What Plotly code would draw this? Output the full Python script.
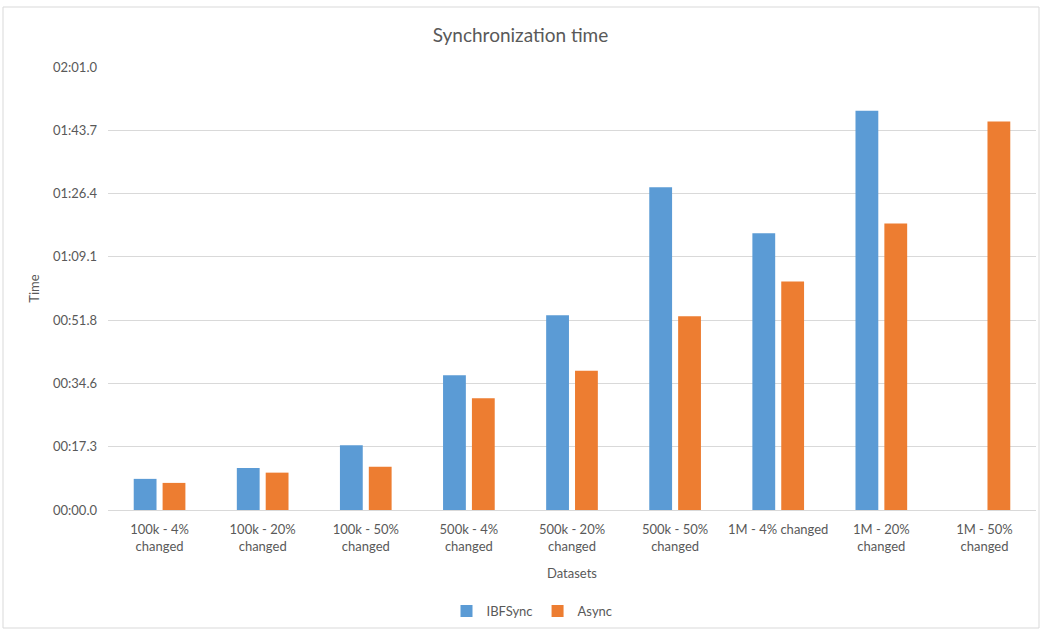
import plotly.graph_objects as go

# Dataset categories and synchronization times (seconds)
categories = [
    "100k - 4%<br>changed", "100k - 20%<br>changed", "100k - 50%<br>changed",
    "500k - 4%<br>changed", "500k - 20%<br>changed", "500k - 50%<br>changed",
    "1M - 4% changed", "1M - 20%<br>changed", "1M - 50%<br>changed",
]
ibfsync = [8.5, 11.5, 17.7, 36.8, 53.2, 88.1, 75.6, 109.0, None]
async_ = [7.4, 10.2, 11.8, 30.5, 38.0, 52.9, 62.4, 78.2, 106.1]

# Y ticks every 0.0002 day (17.28 s), shown as mm:ss.s
tick_seconds = [0, 17.28, 34.56, 51.84, 69.12, 86.4, 103.68, 120.96]
tick_labels = ["00:00.0", "00:17.3", "00:34.6", "00:51.8", "01:09.1",
               "01:26.4", "01:43.7", "02:01.0"]

TEXT = "#595959"
FONT = "Lato, Carlito, Calibri, sans-serif"

fig = go.Figure()
fig.add_trace(go.Bar(name="IBFSync", x=categories, y=ibfsync,
                     marker=dict(color="#5B9BD5", line=dict(width=0))))
fig.add_trace(go.Bar(name="Async", x=categories, y=async_,
                     marker=dict(color="#ED7D31", line=dict(width=0))))

L, R, T, B = 108, 5, 67, 121
W, H = 1041, 631
pw, ph = W - L - R, H - T - B


def px(x):
    return (x - L) / pw


def py(y):
    return (H - B - y) / ph


fig.update_layout(
    width=W, height=H,
    margin=dict(l=L, r=R, t=T, b=B),
    paper_bgcolor="white", plot_bgcolor="white",
    font=dict(family=FONT, color=TEXT, size=12),
    barmode="group", bargap=0.44, bargroupgap=0.21,
    title=dict(text="Synchronization time", x=0.5, xanchor="center",
               y=1 - 35 / H, yanchor="middle",
               font=dict(size=19, color=TEXT, family=FONT)),
    xaxis=dict(
        title=dict(text="Datasets", font=dict(size=13, color=TEXT), standoff=15),
        showgrid=False, showline=False, ticks="", ticklabelstandoff=10,
        tickfont=dict(size=13, color=TEXT),
    ),
    yaxis=dict(
        title=dict(text="Time", font=dict(size=13, color=TEXT), standoff=10),
        range=[0, 120.96], tickvals=tick_seconds, ticktext=tick_labels,
        showgrid=True, gridcolor="#D9D9D9", gridwidth=1,
        zeroline=True, zerolinecolor="#D9D9D9", zerolinewidth=1,
        showline=False, ticks="", ticklabelstandoff=10,
        tickfont=dict(size=13, color=TEXT),
    ),
    legend=dict(orientation="h", x=px(532), xanchor="center",
                y=py(611), yanchor="middle",
                font=dict(size=13, color=TEXT), itemwidth=30,
                traceorder="normal"),
    shapes=[dict(type="rect", xref="paper", yref="paper",
                 x0=px(3), x1=px(1039), y0=py(628), y1=py(7),
                 line=dict(color="#D9D9D9", width=1), layer="below")],
)

fig.write_html("out.html")
